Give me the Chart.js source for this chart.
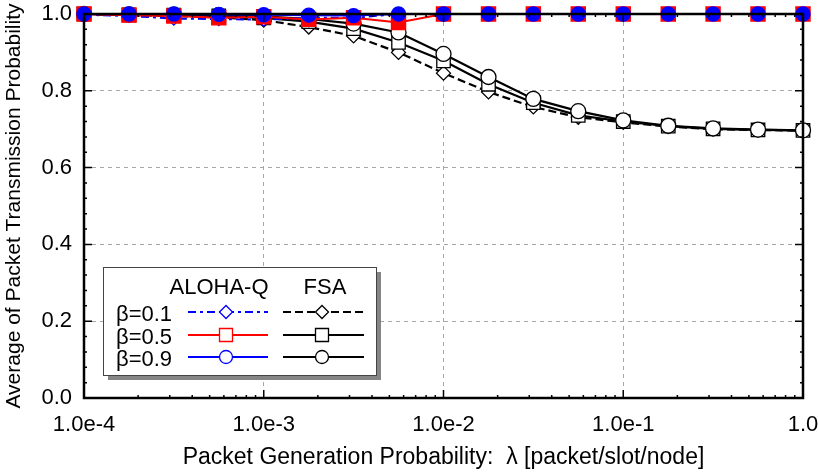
<!DOCTYPE html>
<html>
<head>
<meta charset="utf-8">
<script src="https://cdn.jsdelivr.net/npm/chart.js@4.4.1/dist/chart.umd.min.js"></script>
<style>
  html, body { margin: 0; padding: 0; background: #fff; }
  #wrap { width: 818px; height: 472px; }
</style>
</head>
<body>
<div id="wrap"><canvas id="myChart" width="818" height="472"></canvas></div>
<script>
// packet generation probability (x), four points per decade
const lambdaValues = [1.0e-4, 1.78e-4, 3.16e-4, 5.62e-4, 1.0e-3, 1.78e-3, 3.16e-3, 5.62e-3,
  1.0e-2, 1.78e-2, 3.16e-2, 5.62e-2, 1.0e-1, 1.78e-1, 3.16e-1, 5.62e-1, 1.0];

// ALOHA-Q
const alohaB01 = [0.998, 0.995, 0.988, 0.987, 0.985, 0.99, 0.99, 1.0, 1.0, 1.0, 1.0, 1.0, 1.0, 1.0, 1.0, 1.0, 1.0];
const alohaB05 = [1.0, 0.997, 0.995, 0.99, 0.993, 0.986, 0.99, 0.978, 1.0, 1.0, 1.0, 1.0, 1.0, 1.0, 1.0, 1.0, 1.0];
const alohaB09 = [1.0, 1.0, 1.0, 0.999, 0.998, 0.997, 0.996, 1.0, 1.0, 1.0, 1.0, 1.0, 1.0, 1.0, 1.0, 1.0, 1.0];

// FSA
const fsaB01 = [0.999, 0.997, 0.995, 0.991, 0.984, 0.966, 0.943, 0.90, 0.846, 0.797, 0.758, 0.731, 0.718, 0.707, 0.700, 0.698, 0.696];
const fsaB05 = [1.0, 0.998, 0.997, 0.995, 0.99, 0.98, 0.962, 0.926, 0.878, 0.817, 0.769, 0.736, 0.720, 0.708, 0.701, 0.698, 0.697];
const fsaB09 = [1.0, 0.999, 0.998, 0.997, 0.994, 0.987, 0.975, 0.952, 0.896, 0.836, 0.779, 0.747, 0.723, 0.709, 0.702, 0.699, 0.697];

const xTicks = [1e-4, 1e-3, 1e-2, 1e-1, 1];
const xTickLabels = ['1.0e-4', '1.0e-3', '1.0e-2', '1.0e-1', '1.0'];
const yTicks = [0, 0.2, 0.4, 0.6, 0.8, 1.0];

const legendColumns = ['ALOHA-Q', 'FSA'];
const legendRows = ['β=0.1', 'β=0.5', 'β=0.9'];

const FONT = "'Liberation Sans', Arial, Helvetica, sans-serif";
const BLUE = '#0000ff';
const RED = '#ff0000';

const pts = (ys) => ys.map((y, i) => ({ x: lambdaValues[i], y }));

// style for each line, shared by plot and legend
const styles = {
  aloha01: { color: BLUE, dash: [8, 4, 3, 4], width: 2, point: 'rectRot', radius: 6.5, fill: '#fff' },
  aloha05: { color: RED, dash: [], width: 2, point: 'rect', radius: 10, fill: RED },
  aloha09: { color: BLUE, dash: [], width: 2, point: 'circle', radius: 7, fill: BLUE },
  fsa01: { color: '#000', dash: [8, 4], width: 2.2, point: 'rectRot', radius: 7, fill: '#fff' },
  fsa05: { color: '#000', dash: [], width: 2.2, point: 'rect', radius: 9.5, fill: '#fff' },
  fsa09: { color: '#000', dash: [], width: 2.2, point: 'circle', radius: 7.5, fill: '#fff' }
};

const makeSet = (label, data, s) => ({
  label,
  data: pts(data),
  borderColor: s.color,
  borderWidth: s.width,
  borderDash: s.dash,
  pointStyle: s.point,
  pointRadius: s.radius,
  pointBackgroundColor: s.fill,
  pointBorderColor: s.color,
  pointBorderWidth: 1.3,
  tension: 0
});

// inward ticks and black frame round the plot area
const frameTicks = {
  id: 'frameTicks',
  afterDatasetsDraw(chart) {
    const { ctx, chartArea: a, scales: { x, y } } = chart;
    ctx.save();
    ctx.strokeStyle = '#000';
    ctx.lineWidth = 1.5;
    ctx.beginPath();
    for (let e = -4; e < 0; e++) {
      for (let m = 1; m < 10; m++) {
        const px = x.getPixelForValue(m * Math.pow(10, e));
        const len = m === 1 ? 8 : 3;
        ctx.moveTo(px, a.bottom); ctx.lineTo(px, a.bottom - len);
        ctx.moveTo(px, a.top); ctx.lineTo(px, a.top + len);
      }
    }
    for (let k = 0; k <= 25; k++) {
      const py = y.getPixelForValue(k * 0.04);
      const len = k % 5 === 0 ? 8 : 3;
      ctx.moveTo(a.left, py); ctx.lineTo(a.left + len, py);
      ctx.moveTo(a.right, py); ctx.lineTo(a.right - len, py);
    }
    ctx.stroke();
    ctx.lineWidth = 2.5;
    ctx.strokeRect(a.left, a.top, a.right - a.left, a.bottom - a.top);
    ctx.restore();
  }
};

function drawMarker(ctx, s, x, y) {
  ctx.save();
  ctx.lineWidth = 1.3;
  ctx.strokeStyle = s.color;
  ctx.fillStyle = '#fff';
  ctx.setLineDash([]);
  ctx.beginPath();
  if (s.point === 'circle') {
    ctx.arc(x, y, 6.5, 0, Math.PI * 2);
  } else if (s.point === 'rect') {
    ctx.rect(x - 6.5, y - 6.5, 13, 13);
  } else {
    ctx.moveTo(x - 6.5, y); ctx.lineTo(x, y - 6.5); ctx.lineTo(x + 6.5, y); ctx.lineTo(x, y + 6.5); ctx.closePath();
  }
  ctx.fill();
  ctx.stroke();
  ctx.restore();
}

// two-column legend box with drop shadow
const pairedLegend = {
  id: 'pairedLegend',
  afterDraw(chart) {
    const { ctx } = chart;
    const box = { x: 103, y: 267, w: 273, h: 108 };
    ctx.save();
    ctx.fillStyle = '#858585';
    ctx.fillRect(box.x + 5, box.y + 5, box.w, box.h);
    ctx.fillStyle = '#fff';
    ctx.fillRect(box.x, box.y, box.w, box.h);
    ctx.strokeStyle = '#444';
    ctx.lineWidth = 1;
    ctx.strokeRect(box.x + 0.5, box.y + 0.5, box.w, box.h);

    ctx.fillStyle = '#000';
    ctx.font = '22px ' + FONT;
    ctx.textAlign = 'center';
    ctx.textBaseline = 'middle';
    ctx.fillText(legendColumns[0], 219, 288);
    ctx.fillText(legendColumns[1], 325, 288);

    const rowY = [312, 335, 357];
    const rows = [['aloha01', 'fsa01'], ['aloha05', 'fsa05'], ['aloha09', 'fsa09']];
    ctx.textAlign = 'left';
    rows.forEach((r, i) => {
      ctx.fillStyle = '#000';
      ctx.fillText(legendRows[i], 116, rowY[i] + 3);
      [[188, 268, 226], [283, 364, 322]].forEach(([x0, x1, xm], j) => {
        const s = styles[r[j]];
        ctx.save();
        ctx.strokeStyle = s.color;
        ctx.lineWidth = 2;
        ctx.setLineDash(s.dash);
        ctx.beginPath();
        ctx.moveTo(x0, rowY[i]); ctx.lineTo(x1, rowY[i]);
        ctx.stroke();
        ctx.restore();
        drawMarker(ctx, s, xm, rowY[i]);
      });
    });
    ctx.restore();
  }
};

const ctx = document.getElementById('myChart').getContext('2d');
const chart = new Chart(ctx, {
  type: 'line',
  data: {
    // first dataset is painted last, so ALOHA-Q β=0.9 sits on top
    datasets: [
      makeSet('ALOHA-Q β=0.9', alohaB09, styles.aloha09),
      makeSet('ALOHA-Q β=0.5', alohaB05, styles.aloha05),
      makeSet('ALOHA-Q β=0.1', alohaB01, styles.aloha01),
      makeSet('FSA β=0.9', fsaB09, styles.fsa09),
      makeSet('FSA β=0.5', fsaB05, styles.fsa05),
      makeSet('FSA β=0.1', fsaB01, styles.fsa01)
    ]
  },
  options: {
    responsive: false,
    animation: false,
    clip: false,
    layout: { padding: { top: 14, right: 15, left: 0, bottom: 0 } },
    plugins: { legend: { display: false }, tooltip: { enabled: false } },
    scales: {
      x: {
        type: 'logarithmic',
        min: 1e-4,
        max: 1,
        afterBuildTicks: s => { s.ticks = xTicks.map(v => ({ value: v })); },
        afterFit: s => { s.height = 74; s.paddingLeft = 0; s.paddingRight = 0; },
        ticks: {
          autoSkip: false,
          maxRotation: 0,
          padding: 14,
          color: '#000',
          font: { family: FONT, size: 22 },
          callback: (v) => xTickLabels[xTicks.indexOf(v)] ?? ''
        },
        grid: { color: '#a6a6a6', lineWidth: 1, drawTicks: false },
        border: { display: false, dash: [4, 4] },
        title: {
          display: true,
          text: 'Packet Generation Probability:  λ [packet/slot/node]',
          color: '#000',
          font: { family: FONT, size: 23 },
          padding: { top: 0, bottom: 1 }
        }
      },
      y: {
        min: 0,
        max: 1,
        afterBuildTicks: s => { s.ticks = yTicks.map(v => ({ value: v })); },
        afterFit: s => { s.width = 84; s.paddingTop = 0; s.paddingBottom = 0; },
        ticks: {
          padding: 12,
          color: '#000',
          font: { family: FONT, size: 22 },
          callback: v => v.toFixed(1)
        },
        grid: { color: '#a6a6a6', lineWidth: 1, drawTicks: false },
        border: { display: false, dash: [4, 4] },
        title: {
          display: true,
          text: 'Average of Packet Transmission Probability',
          color: '#000',
          font: { family: FONT, size: 21 },
          padding: { top: 2, bottom: 0 }
        }
      }
    }
  },
  plugins: [frameTicks, pairedLegend]
});
</script>
</body>
</html>
